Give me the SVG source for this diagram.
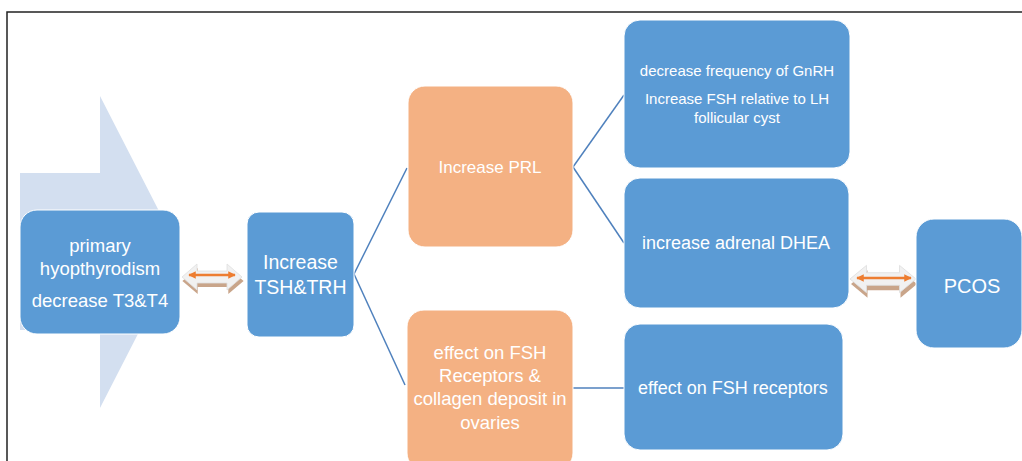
<svg xmlns="http://www.w3.org/2000/svg" width="1022" height="461" viewBox="0 0 1022 461">
<style>
.blue{fill:#5b9bd5;stroke:#ffffff;stroke-width:1}
.orange{fill:#f4b183;stroke:#ffffff;stroke-width:1}
.t{font-family:"Liberation Sans",Arial,sans-serif;fill:#ffffff;text-anchor:middle;dominant-baseline:central}
.conn{stroke:#4f81bd;stroke-width:1.5;fill:none}
.ol{stroke:#ed7d31;stroke-width:2.5;fill:none;marker-start:url(#ah);marker-end:url(#ah)}
</style>
<defs>
<marker id="ah" viewBox="0 0 10 10" refX="9" refY="5" markerWidth="3" markerHeight="3" orient="auto-start-reverse">
<path d="M0,0 L10,5 L0,10 z" fill="#ed7d31"/>
</marker>
<polygon id="dbl" points="-30,0 -15,-13 -15,-6 15,-6 15,-13 30,0 15,13 15,6 -15,6 -15,13"/>
</defs>
<rect width="1022" height="461" fill="#ffffff"/>
<path d="M7,461 L7,12 L1022,12" stroke="#222" stroke-width="1.5" fill="none"/>
<polygon id="bgarrow" points="20,173 100,173 100,96 180,252 100,408 100,330 20,330" fill="#d3dff0"/>

<g id="connectors">
<line class="conn" x1="354" y1="274" x2="407" y2="168"/>
<line class="conn" x1="354" y1="274" x2="405" y2="385"/>
<line class="conn" x1="573" y1="167" x2="624" y2="95"/>
<line class="conn" x1="573" y1="167" x2="624" y2="243"/>
<line class="conn" x1="573" y1="388" x2="624" y2="388"/>
<g id="dblarrow1">
<use href="#dbl" transform="translate(213,281) scale(1.02,1)" fill="#c9a58a"/>
<use href="#dbl" transform="translate(212,277)" fill="#f1f1f1" stroke="#e0e0e0" stroke-width="0.8"/>
<line class="ol" x1="189" y1="275" x2="235" y2="275"/>
</g>
<g id="dblarrow2">
<use href="#dbl" transform="translate(884,284) scale(1.1,1.05)" fill="#c9a58a"/>
<use href="#dbl" transform="translate(883,279) scale(1.1,1.05)" fill="#f1f1f1" stroke="#e0e0e0" stroke-width="0.8"/>
<line class="ol" x1="857" y1="278" x2="911" y2="278"/>
</g>
</g>

<g id="primary">
<rect class="blue" x="20" y="210" width="160" height="124" rx="17"/>
<text class="t" x="100" y="245" font-size="18.5">primary</text>
<text class="t" x="100" y="268" font-size="18.5">hyopthyrodism</text>
<text class="t" x="100" y="300" font-size="18.5">decrease T3&amp;T4</text>
</g>
<g id="tsh">
<rect class="blue" x="247" y="212" width="107" height="125" rx="12"/>
<text class="t" x="300.5" y="262" font-size="19.5">Increase</text>
<text class="t" x="300.5" y="287" font-size="19.5">TSH&amp;TRH</text>
</g>
<g id="prl">
<rect class="orange" x="408" y="86" width="165" height="161" rx="17"/>
<text class="t" x="490" y="167" font-size="17">Increase PRL</text>
</g>
<g id="fshorange">
<rect class="orange" x="407" y="310" width="166" height="160" rx="17"/>
<text class="t" x="490" y="352" font-size="18.5">effect on FSH</text>
<text class="t" x="490" y="375" font-size="18.5">Receptors &amp;</text>
<text class="t" x="490" y="398" font-size="18.5">collagen deposit in</text>
<text class="t" x="490" y="422" font-size="18.5">ovaries</text>
</g>
<g id="gnrh">
<rect class="blue" x="624" y="20" width="226" height="148" rx="16"/>
<text class="t" x="737" y="70" font-size="15">decrease frequency of GnRH</text>
<text class="t" x="737" y="98" font-size="15">Increase FSH relative to LH</text>
<text class="t" x="737" y="117" font-size="15">follicular cyst</text>
</g>
<g id="dhea">
<rect class="blue" x="624" y="178" width="225" height="130" rx="16"/>
<text class="t" x="736" y="243" font-size="18">increase adrenal DHEA</text>
</g>
<g id="fshrec">
<rect class="blue" x="624" y="324" width="219" height="126" rx="16"/>
<text class="t" x="733" y="388" font-size="18">effect on FSH receptors</text>
</g>
<g id="pcos">
<rect class="blue" x="916" y="219" width="106" height="129" rx="18"/>
<text class="t" x="972" y="286" font-size="20">PCOS</text>
</g>
</svg>
